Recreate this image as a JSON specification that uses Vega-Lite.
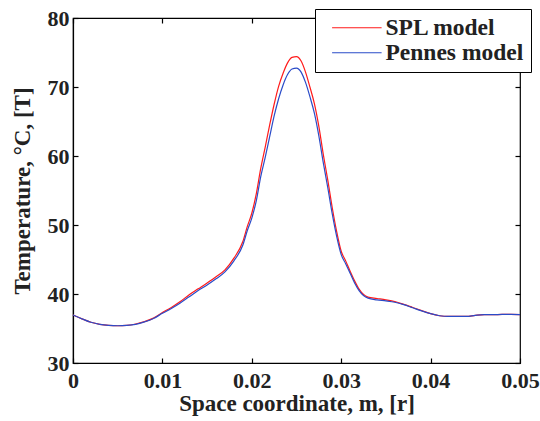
{
  "$schema": "https://vega.github.io/schema/vega-lite/v6.json",
  "autosize": "none",
  "width": 447,
  "height": 345,
  "padding": {"left": 73, "top": 18, "right": 20, "bottom": 58},
  "background": "white",
  "config": {
    "view": {"stroke": "black", "strokeWidth": 1.2},
    "font": "Liberation Serif",
    "axis": {
      "grid": false,
      "domainColor": "black",
      "domainWidth": 1.2,
      "tickColor": "black",
      "tickWidth": 1.2,
      "tickSize": -5
    }
  },
  "resolve": {"axis": {"x": "independent", "y": "independent"}},
  "datasets": {
    "curves": [
      {"r": 0.000, "T": 36.95, "model": "SPL model"},
      {"r": 0.001, "T": 36.4, "model": "SPL model"},
      {"r": 0.002, "T": 35.9, "model": "SPL model"},
      {"r": 0.003, "T": 35.6, "model": "SPL model"},
      {"r": 0.004, "T": 35.45, "model": "SPL model"},
      {"r": 0.005, "T": 35.4, "model": "SPL model"},
      {"r": 0.006, "T": 35.45, "model": "SPL model"},
      {"r": 0.007, "T": 35.65, "model": "SPL model"},
      {"r": 0.008, "T": 36.0, "model": "SPL model"},
      {"r": 0.009, "T": 36.5, "model": "SPL model"},
      {"r": 0.010, "T": 37.3, "model": "SPL model"},
      {"r": 0.011, "T": 38.05, "model": "SPL model"},
      {"r": 0.012, "T": 38.9, "model": "SPL model"},
      {"r": 0.013, "T": 39.9, "model": "SPL model"},
      {"r": 0.014, "T": 40.75, "model": "SPL model"},
      {"r": 0.015, "T": 41.6, "model": "SPL model"},
      {"r": 0.016, "T": 42.5, "model": "SPL model"},
      {"r": 0.017, "T": 43.5, "model": "SPL model"},
      {"r": 0.018, "T": 45.2, "model": "SPL model"},
      {"r": 0.019, "T": 47.6, "model": "SPL model"},
      {"r": 0.0195, "T": 49.8, "model": "SPL model"},
      {"r": 0.020, "T": 51.7, "model": "SPL model"},
      {"r": 0.0205, "T": 54.5, "model": "SPL model"},
      {"r": 0.021, "T": 58.2, "model": "SPL model"},
      {"r": 0.0215, "T": 61.3, "model": "SPL model"},
      {"r": 0.022, "T": 64.5, "model": "SPL model"},
      {"r": 0.0225, "T": 67.5, "model": "SPL model"},
      {"r": 0.023, "T": 70.1, "model": "SPL model"},
      {"r": 0.0235, "T": 72.0, "model": "SPL model"},
      {"r": 0.024, "T": 73.5, "model": "SPL model"},
      {"r": 0.0245, "T": 74.3, "model": "SPL model"},
      {"r": 0.025, "T": 74.4, "model": "SPL model"},
      {"r": 0.0255, "T": 73.8, "model": "SPL model"},
      {"r": 0.026, "T": 72.2, "model": "SPL model"},
      {"r": 0.0265, "T": 70.0, "model": "SPL model"},
      {"r": 0.027, "T": 67.6, "model": "SPL model"},
      {"r": 0.0275, "T": 64.3, "model": "SPL model"},
      {"r": 0.028, "T": 60.2, "model": "SPL model"},
      {"r": 0.0285, "T": 56.5, "model": "SPL model"},
      {"r": 0.029, "T": 52.5, "model": "SPL model"},
      {"r": 0.0295, "T": 49.0, "model": "SPL model"},
      {"r": 0.030, "T": 46.2, "model": "SPL model"},
      {"r": 0.0305, "T": 44.8, "model": "SPL model"},
      {"r": 0.031, "T": 43.3, "model": "SPL model"},
      {"r": 0.0315, "T": 41.9, "model": "SPL model"},
      {"r": 0.032, "T": 40.7, "model": "SPL model"},
      {"r": 0.033, "T": 39.55, "model": "SPL model"},
      {"r": 0.034, "T": 39.35, "model": "SPL model"},
      {"r": 0.035, "T": 39.15, "model": "SPL model"},
      {"r": 0.036, "T": 38.9, "model": "SPL model"},
      {"r": 0.037, "T": 38.5, "model": "SPL model"},
      {"r": 0.038, "T": 38.05, "model": "SPL model"},
      {"r": 0.039, "T": 37.6, "model": "SPL model"},
      {"r": 0.040, "T": 37.15, "model": "SPL model"},
      {"r": 0.041, "T": 36.85, "model": "SPL model"},
      {"r": 0.042, "T": 36.75, "model": "SPL model"},
      {"r": 0.043, "T": 36.75, "model": "SPL model"},
      {"r": 0.044, "T": 36.75, "model": "SPL model"},
      {"r": 0.045, "T": 36.9, "model": "SPL model"},
      {"r": 0.046, "T": 37.0, "model": "SPL model"},
      {"r": 0.047, "T": 37.0, "model": "SPL model"},
      {"r": 0.048, "T": 37.05, "model": "SPL model"},
      {"r": 0.049, "T": 37.05, "model": "SPL model"},
      {"r": 0.050, "T": 37.0, "model": "SPL model"},
      {"r": 0.000, "T": 36.95, "model": "Pennes model"},
      {"r": 0.001, "T": 36.4, "model": "Pennes model"},
      {"r": 0.002, "T": 35.9, "model": "Pennes model"},
      {"r": 0.003, "T": 35.6, "model": "Pennes model"},
      {"r": 0.004, "T": 35.45, "model": "Pennes model"},
      {"r": 0.005, "T": 35.4, "model": "Pennes model"},
      {"r": 0.006, "T": 35.45, "model": "Pennes model"},
      {"r": 0.007, "T": 35.6, "model": "Pennes model"},
      {"r": 0.008, "T": 35.95, "model": "Pennes model"},
      {"r": 0.009, "T": 36.45, "model": "Pennes model"},
      {"r": 0.010, "T": 37.2, "model": "Pennes model"},
      {"r": 0.011, "T": 37.9, "model": "Pennes model"},
      {"r": 0.012, "T": 38.7, "model": "Pennes model"},
      {"r": 0.013, "T": 39.6, "model": "Pennes model"},
      {"r": 0.014, "T": 40.5, "model": "Pennes model"},
      {"r": 0.015, "T": 41.3, "model": "Pennes model"},
      {"r": 0.016, "T": 42.2, "model": "Pennes model"},
      {"r": 0.017, "T": 43.2, "model": "Pennes model"},
      {"r": 0.018, "T": 44.8, "model": "Pennes model"},
      {"r": 0.019, "T": 47.1, "model": "Pennes model"},
      {"r": 0.0195, "T": 49.2, "model": "Pennes model"},
      {"r": 0.020, "T": 51.0, "model": "Pennes model"},
      {"r": 0.0205, "T": 53.5, "model": "Pennes model"},
      {"r": 0.021, "T": 57.0, "model": "Pennes model"},
      {"r": 0.0215, "T": 59.8, "model": "Pennes model"},
      {"r": 0.022, "T": 62.8, "model": "Pennes model"},
      {"r": 0.0225, "T": 65.8, "model": "Pennes model"},
      {"r": 0.023, "T": 68.3, "model": "Pennes model"},
      {"r": 0.0235, "T": 70.3, "model": "Pennes model"},
      {"r": 0.024, "T": 71.8, "model": "Pennes model"},
      {"r": 0.0245, "T": 72.6, "model": "Pennes model"},
      {"r": 0.025, "T": 72.75, "model": "Pennes model"},
      {"r": 0.0255, "T": 72.2, "model": "Pennes model"},
      {"r": 0.026, "T": 70.7, "model": "Pennes model"},
      {"r": 0.0265, "T": 68.6, "model": "Pennes model"},
      {"r": 0.027, "T": 66.2, "model": "Pennes model"},
      {"r": 0.0275, "T": 62.9, "model": "Pennes model"},
      {"r": 0.028, "T": 59.0, "model": "Pennes model"},
      {"r": 0.0285, "T": 55.4, "model": "Pennes model"},
      {"r": 0.029, "T": 51.6, "model": "Pennes model"},
      {"r": 0.0295, "T": 48.3, "model": "Pennes model"},
      {"r": 0.030, "T": 45.7, "model": "Pennes model"},
      {"r": 0.0305, "T": 44.4, "model": "Pennes model"},
      {"r": 0.031, "T": 43.0, "model": "Pennes model"},
      {"r": 0.0315, "T": 41.6, "model": "Pennes model"},
      {"r": 0.032, "T": 40.5, "model": "Pennes model"},
      {"r": 0.033, "T": 39.4, "model": "Pennes model"},
      {"r": 0.034, "T": 39.15, "model": "Pennes model"},
      {"r": 0.035, "T": 39.0, "model": "Pennes model"},
      {"r": 0.036, "T": 38.8, "model": "Pennes model"},
      {"r": 0.037, "T": 38.45, "model": "Pennes model"},
      {"r": 0.038, "T": 38.0, "model": "Pennes model"},
      {"r": 0.039, "T": 37.55, "model": "Pennes model"},
      {"r": 0.040, "T": 37.15, "model": "Pennes model"},
      {"r": 0.041, "T": 36.85, "model": "Pennes model"},
      {"r": 0.042, "T": 36.75, "model": "Pennes model"},
      {"r": 0.043, "T": 36.75, "model": "Pennes model"},
      {"r": 0.044, "T": 36.75, "model": "Pennes model"},
      {"r": 0.045, "T": 36.9, "model": "Pennes model"},
      {"r": 0.046, "T": 37.0, "model": "Pennes model"},
      {"r": 0.047, "T": 37.0, "model": "Pennes model"},
      {"r": 0.048, "T": 37.05, "model": "Pennes model"},
      {"r": 0.049, "T": 37.05, "model": "Pennes model"},
      {"r": 0.050, "T": 37.0, "model": "Pennes model"}
    ]
  },
  "data": {"name": "curves"},
  "layer": [
    {
      "mark": {"type": "line", "strokeWidth": 1.2, "interpolate": "monotone"},
      "encoding": {
        "x": {
          "field": "r", "type": "quantitative",
          "scale": {"domain": [0, 0.05], "nice": false, "zero": false},
          "axis": {"orient": "bottom", "values": [0, 0.01, 0.02, 0.03, 0.04, 0.05], "format": "~g", "title": "Space coordinate, m, [r]",
            "labelFont": "Liberation Serif", "labelFontWeight": "bold", "labelFontSize": 22, "labelColor": "#222",
            "titleFont": "Liberation Serif", "titleFontWeight": "bold", "titleFontSize": 23, "titleColor": "#222",
            "labelPadding": 12, "titlePadding": 1, "labelFlush": false}
        },
        "y": {
          "field": "T", "type": "quantitative",
          "scale": {"domain": [30, 80], "nice": false, "zero": false},
          "axis": {"orient": "left", "values": [30, 40, 50, 60, 70, 80], "title": "Temperature, °C, [T]",
            "labelFont": "Liberation Serif", "labelFontWeight": "bold", "labelFontSize": 22, "labelColor": "#222",
            "titleFont": "Liberation Serif", "titleFontWeight": "bold", "titleFontSize": 23, "titleColor": "#222",
            "labelPadding": 9, "titlePadding": 13}
        },
        "color": {
          "field": "model", "type": "nominal", "sort": ["SPL model", "Pennes model"],
          "scale": {"domain": ["SPL model", "Pennes model"], "range": ["#ff1a1a", "#2a4bc8"]},
          "legend": {
            "title": null,
            "orient": "none",
            "legendX": 242,
            "legendY": -9,
            "direction": "vertical",
            "fillColor": "white",
            "strokeColor": "black",
            "padding": 7,
            "symbolType": "M-0.3,0L8.7,0",
            "symbolSize": 121,
            "symbolStrokeWidth": 1.2,
            "labelFont": "Liberation Serif",
            "labelFontWeight": "bold",
            "labelFontSize": 23.5,
            "labelColor": "#222",
            "labelOffset": 40,
            "rowPadding": 0
          }
        }
      }
    },
    {
      "mark": {"type": "line", "strokeOpacity": 0},
      "encoding": {
        "x": {"field": "r", "type": "quantitative", "axis": {"orient": "top", "values": [0, 0.01, 0.02, 0.03, 0.04, 0.05], "labels": false, "title": null, "domain": false}},
        "y": {"field": "T", "type": "quantitative", "axis": {"orient": "right", "values": [30, 40, 50, 60, 70, 80], "labels": false, "title": null, "domain": false}},
        "detail": {"field": "model"}
      }
    }
  ]
}
